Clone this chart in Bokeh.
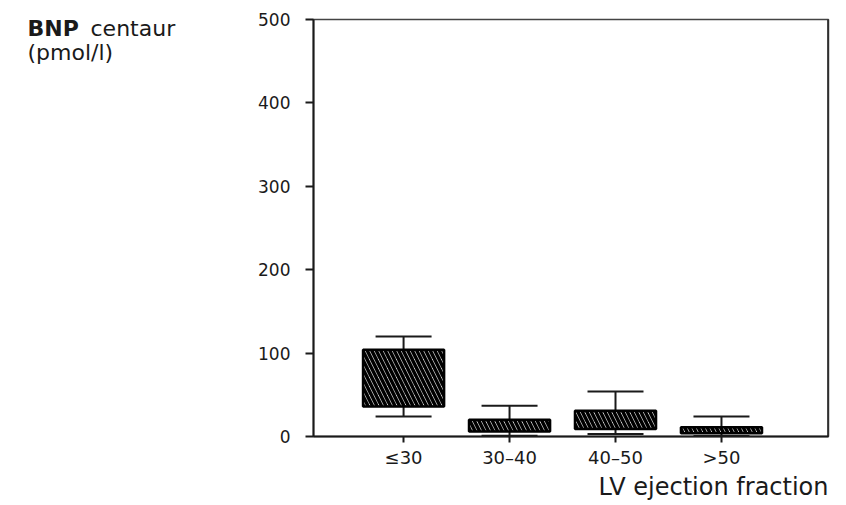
from bokeh.plotting import figure
from bokeh.models import FixedTicker, Span, Label, Title
from bokeh.embed import file_html
from bokeh.resources import INLINE

# ---- data ----
categories = ["≤30", "30–40", "40–50", ">50"]
positions = [1, 2, 3, 4]
box_low = [36, 6, 9, 4]        # lower edge of box
box_high = [104, 20, 31, 11]   # upper edge of box
whisk_low = [24, 1, 3, 0.5]
whisk_high = [120, 37, 54, 24]
y_ticks = [0, 100, 200, 300, 400, 500]

X_START, X_END = 0.15, 5.01
Y_START, Y_END = 0, 500

FL, FR, FT, FB = 313, 828, 19, 436
W, H = 846, 505


def dx(px):
    return X_START + (px - FL) * (X_END - X_START) / (FR - FL)


def dy(py):
    return Y_START + (FB - py) * (Y_END - Y_START) / (FB - FT)


FONT = "DejaVu Sans"
INK = "#1a1a1a"

p = figure(width=W, height=H, x_range=(X_START, X_END), y_range=(Y_START, Y_END),
           output_backend="svg", toolbar_location=None,
           min_border_left=FL, min_border_right=W - FR,
           min_border_top=FT, min_border_bottom=H - FB)
p.title.visible = False

# whiskers
p.segment(x0=positions, y0=box_high, x1=positions, y1=whisk_high, line_color=INK, line_width=2)
p.segment(x0=positions, y0=whisk_low, x1=positions, y1=box_low, line_color=INK, line_width=2)
p.dash(x=positions, y=whisk_high, size=56, line_color=INK, line_width=2)
p.dash(x=positions, y=whisk_low, size=56, line_color=INK, line_width=2)

# boxes
p.vbar(x=positions, width=0.765, bottom=box_low, top=box_high,
       fill_color="white", line_color="black", line_width=2.5,
       hatch_pattern="left_diagonal_line", hatch_color="black",
       hatch_weight=3.5, hatch_scale=9)

# axes
p.grid.visible = False
p.xaxis.ticker = FixedTicker(ticks=positions)
p.xaxis.major_label_overrides = {pos: cat for pos, cat in zip(positions, categories)}
p.yaxis.ticker = FixedTicker(ticks=y_ticks)
p.axis.minor_tick_line_color = None
p.axis.major_tick_in = 0
p.yaxis.major_tick_out = 8
p.xaxis.major_tick_out = 6
p.axis.axis_line_width = 2
p.axis.axis_line_color = INK
p.axis.major_tick_line_width = 2
p.axis.major_tick_line_color = INK
p.axis.major_label_text_font = FONT
p.axis.major_label_text_color = INK
p.yaxis.major_label_text_font_size = "17px"
p.xaxis.major_label_text_font_size = "18px"
p.yaxis.major_label_standoff = 15
p.xaxis.major_label_standoff = 4

# x axis title, right-aligned below the axis
p.add_layout(Title(text="LV ejection fraction", align="right", standoff=0,
                   text_font=FONT, text_font_style="normal", text_font_size="24px",
                   text_color=INK), "below")

# y axis title, horizontal at top-left (placed in the left side panel so it is not clipped)
common = dict(text_font=FONT, text_color=INK, text_baseline="alphabetic", text_font_size="22px")
p.add_layout(Label(x=dx(27), y=dy(28), text="BNP", text_font_style="bold", **common), "left")
p.add_layout(Label(x=dx(90), y=dy(28), text="centaur", **common), "left")
p.add_layout(Label(x=dx(27), y=dy(52), text="(pmol/l)", **common), "left")

p.outline_line_color = "#444444"
p.outline_line_width = 1.5
p.add_layout(Span(location=X_END, dimension="height", line_color=INK, line_width=2.5))

open("out.html", "w").write(file_html(p, INLINE))
